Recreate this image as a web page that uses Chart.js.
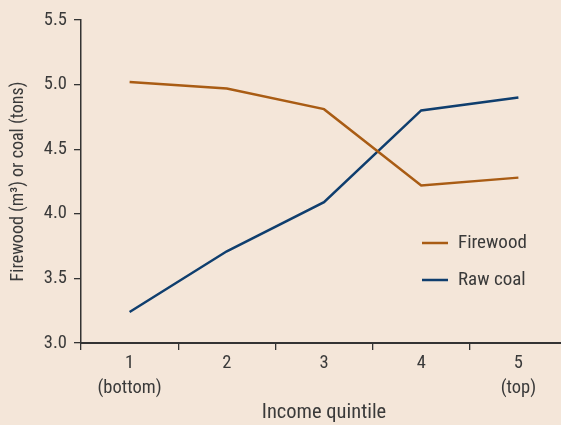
<!DOCTYPE html>
<html>
<head>
<meta charset="utf-8">
<script src="https://cdn.jsdelivr.net/npm/chart.js@4/dist/chart.umd.min.js"></script>
<style>
html,body{margin:0;padding:0;background:#F4E6D9;overflow:hidden;}
#wrap{width:561px;height:425px;position:relative;overflow:hidden;}
</style>
</head>
<body>
<div id="wrap"><canvas id="c" width="567" height="425"></canvas></div>
<script>
const categories = [['1','(bottom)'], '2', '3', '4', ['5','(top)']];
const firewood = [5.02, 4.97, 4.81, 4.22, 4.28];
const rawCoal = [3.24, 3.71, 4.09, 4.80, 4.90];
const yTicks = [3.0, 3.5, 4.0, 4.5, 5.0, 5.5];

const FONT = '"Roboto Condensed", "Liberation Sans Narrow", sans-serif';
const TXT = '#3a3a3a';

const legendPlugin = {
  id: 'insideLegend',
  afterDraw(chart) {
    const ctx = chart.ctx;
    ctx.save();
    chart.data.datasets.forEach((ds, i) => {
      const y = 243 + i * 37;
      ctx.strokeStyle = ds.borderColor;
      ctx.lineWidth = 2.5;
      ctx.beginPath();
      ctx.moveTo(422, y);
      ctx.lineTo(448, y);
      ctx.stroke();
      ctx.fillStyle = TXT;
      ctx.font = '19px ' + FONT;
      ctx.textBaseline = 'middle';
      ctx.textAlign = 'left';
      ctx.fillText(ds.label, 458, y);
    });
    ctx.restore();
  }
};

new Chart(document.getElementById('c'), {
  type: 'line',
  data: {
    labels: categories,
    datasets: [
      { label: 'Firewood', data: firewood, borderColor: '#A95C14', borderWidth: 2.5, pointRadius: 0, tension: 0, fill: false },
      { label: 'Raw coal', data: rawCoal, borderColor: '#0F3E6E', borderWidth: 2.5, pointRadius: 0, tension: 0, fill: false }
    ]
  },
  options: {
    responsive: false,
    animation: false,
    layout: { padding: { top: 20, right: 0, left: 0, bottom: 0 } },
    plugins: { legend: { display: false }, tooltip: { enabled: false } },
    scales: {
      x: {
        type: 'category',
        offset: true,
        grid: { display: true, drawOnChartArea: false, offset: true, tickLength: 7, color: '#333', lineWidth: 1.3 },
        border: { display: true, color: '#333', width: 2 },
        ticks: { color: TXT, font: { family: FONT, size: 18.5, lineHeight: 1.35 }, padding: 1, maxRotation: 0, autoSkip: false },
        title: { display: true, text: 'Income quintile', color: TXT, font: { family: FONT, size: 20.5 }, padding: { top: 0, bottom: 0 } },
        afterFit(scale) { scale.height = 82; }
      },
      y: {
        min: 3.0, max: 5.5,
        afterBuildTicks(scale) { scale.ticks = yTicks.map(v => ({ value: v })); },
        grid: { display: true, drawOnChartArea: false, tickLength: 7, color: '#333', lineWidth: 1.3 },
        border: { display: true, color: '#333', width: 1.5 },
        ticks: { color: TXT, font: { family: FONT, size: 18.5 }, padding: 7, callback: v => v.toFixed(1) },
        title: { display: true, text: 'Firewood (m³) or coal (tons)', color: TXT, font: { family: FONT, size: 18 }, padding: { top: 8, bottom: 4 } },
        afterFit(scale) { scale.width = 81; }
      }
    }
  },
  plugins: [legendPlugin]
});
</script>
</body>
</html>
